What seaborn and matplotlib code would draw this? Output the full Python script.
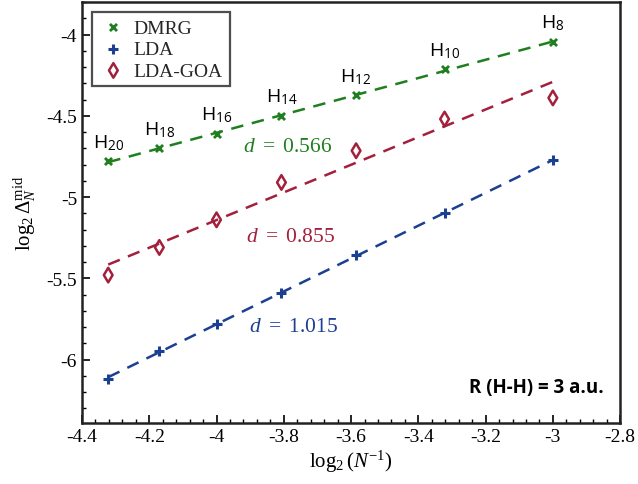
import numpy as np
import pandas as pd
import matplotlib
matplotlib.use("Agg")
import matplotlib.pyplot as plt
import seaborn as sns
from matplotlib.ticker import MultipleLocator, FuncFormatter

# ---- data ----
chain_sizes = ["20", "18", "16", "14", "12", "10", "8"]
x_vals = [-4.322, -4.170, -4.000, -3.807, -3.585, -3.322, -3.000]
dmrg = [-4.78, -4.70, -4.61, -4.50, -4.375, -4.215, -4.045]
lda = [-6.12, -5.945, -5.78, -5.59, -5.355, -5.10, -4.775]
lda_goa = [-5.48, -5.31, -5.14, -4.91, -4.715, -4.52, -4.39]
slope_labels = [r"$d\ =\ 0.566$", r"$d\ =\ 0.855$", r"$d\ =\ 1.015$"]
series_names = ["DMRG", "LDA", "LDA-GOA"]

sns.set_theme(style="white")
plt.rcParams["font.family"] = ["Liberation Serif", "DejaVu Serif"]
plt.rcParams["mathtext.fontset"] = "custom"
plt.rcParams["mathtext.rm"] = "Liberation Serif"
plt.rcParams["mathtext.it"] = "Liberation Serif:italic"
plt.rcParams["mathtext.sf"] = "Open Sans"

colors = {"DMRG": "#1f7f1f", "LDA": "#1b3f91", "LDA-GOA": "#a3203c"}

df = pd.DataFrame({
    "x": x_vals * 3,
    "y": dmrg + lda + lda_goa,
    "method": sum([[n] * len(x_vals) for n in series_names], []),
})

fig = plt.figure(figsize=(6.38, 4.85), dpi=100)
ax = fig.add_axes([0.1285, 0.1258, 0.8435, 0.868])

# fit lines
for name, vals in zip(series_names, [dmrg, lda, lda_goa]):
    p = np.polyfit(x_vals, vals, 1)
    ends = [x_vals[0], x_vals[-1]]
    fit = pd.DataFrame({"x": ends, "y": np.polyval(p, ends)})
    sns.lineplot(data=fit, x="x", y="y", ax=ax, color=colors[name], lw=1.8,
                 linestyle=(0, (5, 3.5)), legend=False)

# markers
for name in series_names:
    sub = df[df.method == name]
    if name == "DMRG":
        sns.scatterplot(data=sub, x="x", y="y", ax=ax, marker="x", s=26,
                        color=colors[name], linewidth=2, label=name, zorder=3)
    elif name == "LDA":
        sns.scatterplot(data=sub, x="x", y="y", ax=ax, marker="+", s=50,
                        color=colors[name], linewidth=2.2, label=name, zorder=3)
    else:
        sns.scatterplot(data=sub, x="x", y="y", ax=ax, marker="d", s=55,
                        facecolor="none", edgecolor=colors[name], linewidth=1.8,
                        label=name, zorder=3)

# chain labels
for n, xv, yv in zip(chain_sizes, x_vals, dmrg):
    txt = r"$\mathsf{H}_{\mathsf{" + n + "}}$"
    ax.annotate(txt, (xv, yv), xytext=(0, 7), textcoords="offset points",
                ha="center", va="bottom", fontsize=14, color="black")

ax.text(-3.79, -4.69, slope_labels[0], color=colors["DMRG"], fontsize=15.5, ha="center", va="center")
ax.text(-3.781, -5.243, slope_labels[1], color=colors["LDA-GOA"], fontsize=15.5, ha="center", va="center")
ax.text(-3.772, -5.797, slope_labels[2], color=colors["LDA"], fontsize=15.5, ha="center", va="center")
ax.text(-2.85, -6.17, "R (H-H) = 3 a.u.", fontsize=13.5, fontweight="bold",
        family=["Open Sans", "DejaVu Sans"], ha="right", va="center", color="black")

ax.set_xlim(-4.4, -2.8)
ax.set_ylim(-6.39, -3.8)
ax.xaxis.set_major_locator(MultipleLocator(0.2))
ax.xaxis.set_minor_locator(MultipleLocator(0.04))
ax.yaxis.set_major_locator(MultipleLocator(0.5))
ax.yaxis.set_minor_locator(MultipleLocator(0.1))
fmt = FuncFormatter(lambda v, pos: f"{round(v, 2):g}")
ax.xaxis.set_major_formatter(fmt)
ax.yaxis.set_major_formatter(fmt)
ax.tick_params(axis="both", which="both", direction="in", labelsize=14, colors="black",
               bottom=True, left=True, top=False, right=False)
ax.tick_params(which="major", length=6, width=1.2)
ax.tick_params(which="minor", length=3, width=1.0)
for s in ax.spines.values():
    s.set_color("#222222")
    s.set_linewidth(1.8)

ax.set_xlabel(r"$\log_2(N^{-1})$", fontsize=15, labelpad=2, color="black")
ax.set_ylabel(r"$\log_2\Delta_N^{\mathrm{mid}}$", fontsize=15, labelpad=6, color="black")

leg = ax.legend(loc="upper left", bbox_to_anchor=(0.0186, 0.976), borderaxespad=0,
                fontsize=14, frameon=True, fancybox=False, edgecolor="#222222",
                handletextpad=0.3, borderpad=0.35, labelspacing=0.2, handlelength=1.5)
leg.get_frame().set_linewidth(1.6)

fig.savefig("out.png", dpi=100)
